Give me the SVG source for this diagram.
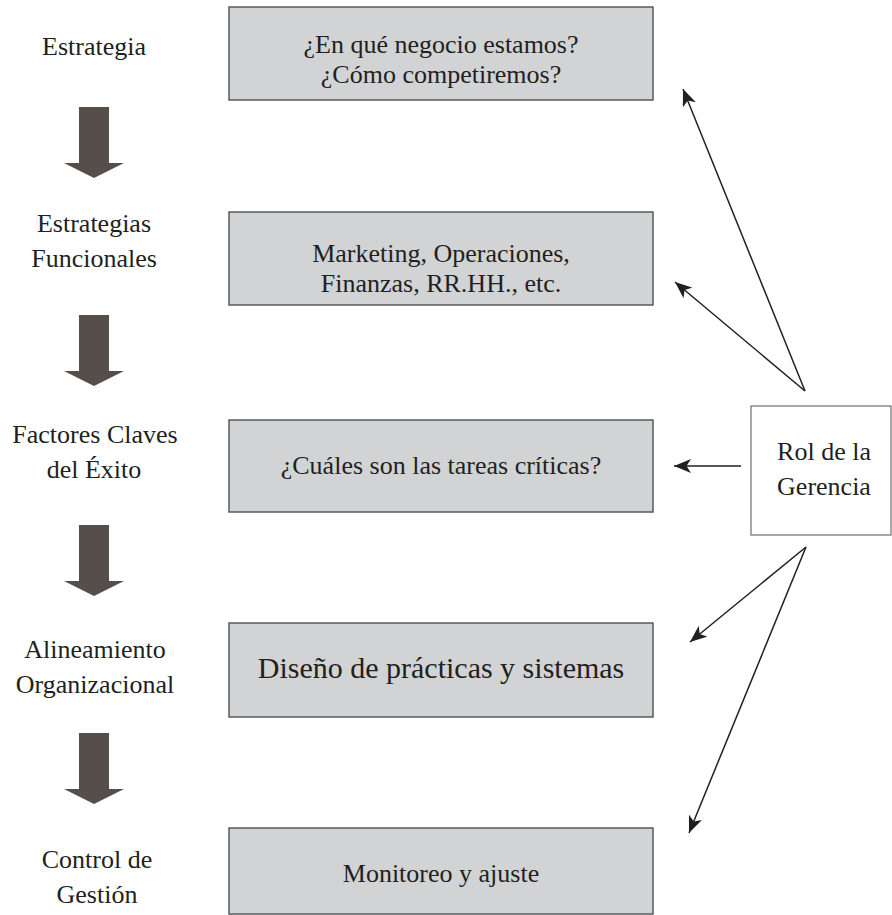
<svg xmlns="http://www.w3.org/2000/svg" width="892" height="915" viewBox="0 0 892 915">
<style>
text{font-family:"Liberation Serif","Times New Roman",serif;fill:#231f20;text-anchor:middle}
.lbl{font-size:26px}
.box{fill:#d1d3d4;stroke:#58595b;stroke-width:1.5}
.rol{fill:#ffffff;stroke:#6d6e71;stroke-width:1.2}
.big{fill:#564e4b}
.con{stroke:#231f20;stroke-width:1.5;fill:none;marker-end:url(#ah)}
</style>
<defs>
<marker id="ah" markerUnits="userSpaceOnUse" markerWidth="20" markerHeight="14" refX="17" refY="7" orient="auto">
<path d="M0,0 L17,7 L0,14 L4.5,7 z" fill="#231f20"/>
</marker>
<polygon id="down" points="79,0 109,0 109,56 124,56 94,71 64,56 79,56" class="big"/>
</defs>

<g id="labels">
<text class="lbl" x="94" y="55">Estrategia</text>
<text class="lbl" x="94" y="232">Estrategias</text>
<text class="lbl" x="94" y="267">Funcionales</text>
<text class="lbl" x="95" y="443">Factores Claves</text>
<text class="lbl" x="94" y="478">del Éxito</text>
<text class="lbl" x="95" y="658">Alineamiento</text>
<text class="lbl" x="95" y="693">Organizacional</text>
<text class="lbl" x="97" y="868">Control de</text>
<text class="lbl" x="97" y="903">Gestión</text>
</g>

<g id="flow">
<use href="#down" y="107"/>
<use href="#down" y="315"/>
<use href="#down" y="525"/>
<use href="#down" y="733"/>
</g>

<g id="box1">
<rect class="box" x="229" y="7" width="424" height="93"/>
<text class="lbl" x="441" y="53">¿En qué negocio estamos?</text>
<text class="lbl" x="441" y="83">¿Cómo competiremos?</text>
</g>
<g id="box2">
<rect class="box" x="229" y="212" width="424" height="93"/>
<text class="lbl" x="441" y="262">Marketing, Operaciones,</text>
<text class="lbl" x="441" y="292">Finanzas, RR.HH., etc.</text>
</g>
<g id="box3">
<rect class="box" x="229" y="420" width="424" height="92"/>
<text class="lbl" x="441" y="474">¿Cuáles son las tareas críticas?</text>
</g>
<g id="box4">
<rect class="box" x="229" y="623" width="424" height="94"/>
<text x="441" y="678" style="font-size:30px">Diseño de prácticas y sistemas</text>
</g>
<g id="box5">
<rect class="box" x="229" y="828" width="424" height="86"/>
<text class="lbl" x="441" y="882">Monitoreo y ajuste</text>
</g>
<g id="rol">
<rect class="rol" x="751" y="406" width="140" height="129"/>
<text class="lbl" x="824" y="460">Rol de la</text>
<text class="lbl" x="824" y="495">Gerencia</text>
</g>

<g id="connectors">
<line class="con" x1="805" y1="391" x2="683" y2="89"/>
<line class="con" x1="805" y1="391" x2="675" y2="282"/>
<line class="con" x1="741" y1="466" x2="674" y2="466"/>
<line class="con" x1="806" y1="547" x2="690" y2="642"/>
<line class="con" x1="806" y1="547" x2="689" y2="833"/>
</g>
</svg>
